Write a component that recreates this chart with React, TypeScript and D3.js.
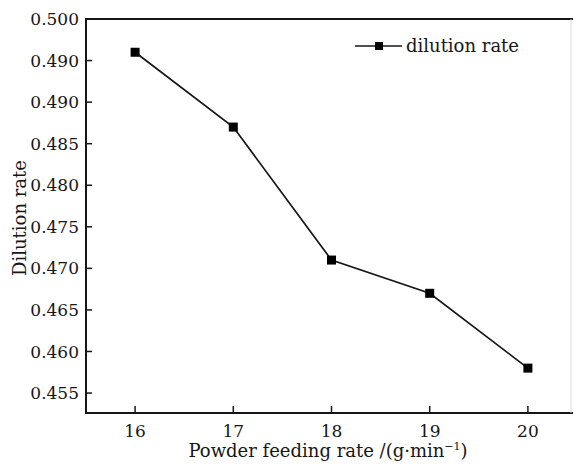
import { useEffect, useRef } from 'react';
import * as d3 from 'd3';

const feedRates = [16, 17, 18, 19, 20];
const dilution = [0.496, 0.487, 0.471, 0.467, 0.458];
const yTickValues = [0.5, 0.495, 0.49, 0.485, 0.48, 0.475, 0.47, 0.465, 0.46, 0.455];
const yTickLabels = ['0.500', '0.490', '0.490', '0.485', '0.480', '0.475', '0.470', '0.465', '0.460', '0.455'];
const seriesName = 'dilution rate';

const W = 573;
const H = 465;
const FONT = '"DejaVu Serif", serif';
const INK = '#161616';

const App = () => {
    const svgRef = useRef<SVGSVGElement>(null);

    useEffect(() => {
        const svg = d3.select(svgRef.current);
        svg.selectAll('*').remove();

        const left = 86, top = 19, bottom = 413, right = 577;
        const x = d3.scaleLinear().domain([15.5, 20.5]).range([left, right]);
        const y = d3.scaleLinear().domain([0.4526, 0.5]).range([bottom, top]);

        svg.append('rect').attr('width', W).attr('height', H).attr('fill', '#fff');

        // frame: left, top, bottom run to the clipped right edge
        const frame = svg.append('g').attr('stroke', INK).attr('stroke-width', 2);
        frame.append('line').attr('x1', left).attr('x2', left).attr('y1', top - 1).attr('y2', bottom + 1);
        frame.append('line').attr('x1', left).attr('x2', W).attr('y1', top).attr('y2', top);
        frame.append('line').attr('x1', left).attr('x2', W).attr('y1', bottom).attr('y2', bottom);
        svg.append('line')
            .attr('x1', 571).attr('x2', 571).attr('y1', top).attr('y2', bottom)
            .attr('stroke', '#ddd').attr('stroke-width', 1);

        // y ticks (inward)
        const yg = svg.append('g').attr('font-family', FONT).attr('font-size', 17).attr('fill', INK);
        yTickValues.forEach((v, i) => {
            if (i > 0) {
                yg.append('line')
                    .attr('x1', left).attr('x2', left + 6)
                    .attr('y1', y(v)).attr('y2', y(v))
                    .attr('stroke', INK).attr('stroke-width', 1.5);
            }
            yg.append('text')
                .attr('x', left - 7).attr('y', y(v))
                .attr('dy', '0.36em')
                .attr('text-anchor', 'end')
                .text(yTickLabels[i]);
        });

        // x ticks (inward)
        const xg = svg.append('g').attr('font-family', FONT).attr('font-size', 17).attr('fill', INK);
        feedRates.forEach(v => {
            xg.append('line')
                .attr('x1', x(v)).attr('x2', x(v))
                .attr('y1', bottom).attr('y2', bottom - 7)
                .attr('stroke', INK).attr('stroke-width', 1.5);
            xg.append('text')
                .attr('x', x(v)).attr('y', 437)
                .attr('text-anchor', 'middle')
                .text(String(v));
        });

        // axis titles
        const xt = svg.append('text')
            .attr('x', 328).attr('y', 457)
            .attr('text-anchor', 'middle')
            .attr('font-family', FONT).attr('font-size', 18).attr('fill', INK);
        xt.append('tspan').text('Powder feeding rate /(g\u00b7min');
        xt.append('tspan').attr('font-size', 11).attr('dy', -7).text('\u22121');
        xt.append('tspan').attr('dy', 7).text(')');

        svg.append('text')
            .attr('transform', `translate(26,${(top + bottom) / 2 + 2}) rotate(-90)`)
            .attr('text-anchor', 'middle')
            .attr('font-family', FONT).attr('font-size', 18).attr('fill', INK)
            .text('Dilution rate');

        // series
        const pts = feedRates.map((f, i) => [f, dilution[i]] as [number, number]);
        const line = d3.line<[number, number]>().x(d => x(d[0])).y(d => y(d[1]));
        svg.append('path')
            .attr('d', line(pts))
            .attr('fill', 'none').attr('stroke', INK).attr('stroke-width', 1.7);

        svg.selectAll('rect.pt')
            .data(pts)
            .join('rect')
            .attr('class', 'pt')
            .attr('x', d => x(d[0]) - 4.5).attr('y', d => y(d[1]) - 4.5)
            .attr('width', 9).attr('height', 9)
            .attr('fill', '#000');

        // legend
        const lg = svg.append('g');
        lg.append('line')
            .attr('x1', 355).attr('x2', 402).attr('y1', 46).attr('y2', 46)
            .attr('stroke', INK).attr('stroke-width', 1.7);
        lg.append('rect')
            .attr('x', 375).attr('y', 42).attr('width', 8).attr('height', 8).attr('fill', '#000');
        lg.append('text')
            .attr('x', 406).attr('y', 52)
            .attr('font-family', FONT).attr('font-size', 18).attr('fill', INK)
            .text(seriesName);
    }, []);

    return (
        <svg
            ref={svgRef}
            width={W}
            height={H}
            viewBox={`0 0 ${W} ${H}`}
            style={{ position: 'absolute', left: 0, top: 0, display: 'block' }}
        />
    );
};

export default App;
